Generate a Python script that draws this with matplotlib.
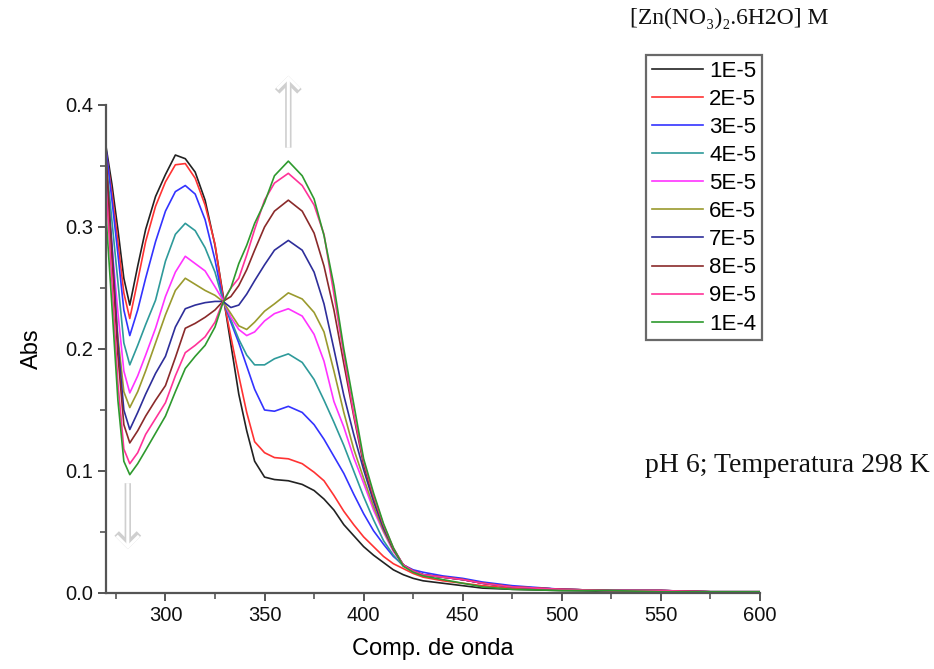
import matplotlib
matplotlib.use("Agg")
import matplotlib.pyplot as plt
from matplotlib.ticker import MultipleLocator, AutoMinorLocator

# wavelength grid (nm)
wl = [270, 273, 276, 279, 282, 286, 290, 295, 300, 305,
      310, 315, 320, 325, 329, 333, 337, 341, 345, 350,
      355, 362, 369, 375, 380, 385, 390, 395, 400, 405,
      410, 415, 420, 425, 430, 440, 450, 460, 475, 500,
      525, 550, 575, 600]

# absorbance for each Zn(NO3)2 concentration
a_1e5 = [.366, .335, .298, .258, .236, .268, .298, .325, .343, .359,
         .356, .345, .322, .285, .245, .204, .163, .133, .108, .095,
         .093, .092, .089, .084, .077, .068, .056, .047, .038, .031,
         .025, .019, .015, .012, .010, .008, .006, .004, .003, .002,
         .0015, .0015, .001, .001]
a_2e5 = [.362, .328, .288, .246, .225, .256, .288, .317, .337, .351,
         .352, .340, .318, .286, .243, .210, .178, .148, .124, .115,
         .111, .110, .106, .099, .092, .080, .067, .056, .046, .038,
         .030, .024, .020, .016, .013, .010, .008, .006, .004, .003,
         .002, .002, .001, .001]
a_3e5 = [.364, .322, .278, .232, .211, .232, .258, .288, .313, .329,
         .334, .327, .306, .273, .240, .222, .205, .186, .167, .150,
         .149, .153, .148, .138, .126, .112, .098, .081, .065, .051,
         .040, .030, .023, .019, .017, .014, .012, .009, .006, .003,
         .002, .002, .001, .001]
a_4e5 = [.355, .305, .255, .205, .187, .203, .220, .240, .272, .294,
         .303, .297, .283, .263, .240, .224, .208, .195, .187, .187,
         .192, .196, .189, .175, .158, .140, .121, .100, .079, .060,
         .043, .031, .022, .018, .015, .013, .011, .008, .005, .003,
         .002, .002, .001, .001]
a_5e5 = [.340, .285, .230, .182, .164, .178, .195, .217, .243, .263,
         .276, .270, .264, .251, .240, .226, .216, .211, .214, .223,
         .229, .233, .227, .212, .190, .157, .136, .111, .090, .068,
         .050, .034, .023, .018, .015, .013, .011, .008, .005, .003,
         .002, .002, .001, .001]
a_6e5 = [.330, .275, .210, .165, .152, .165, .182, .205, .228, .248,
         .258, .253, .248, .244, .239, .229, .219, .216, .222, .231,
         .237, .246, .241, .230, .214, .182, .148, .118, .094, .071,
         .051, .035, .023, .018, .015, .013, .011, .008, .005, .003,
         .002, .002, .001, .001]
a_7e5 = [.350, .285, .205, .150, .134, .148, .163, .180, .194, .218,
         .233, .236, .238, .239, .239, .234, .236, .245, .256, .269,
         .281, .289, .281, .263, .237, .200, .162, .130, .101, .075,
         .053, .036, .023, .018, .015, .013, .011, .008, .005, .003,
         .002, .002, .001, .001]
a_8e5 = [.360, .275, .195, .138, .123, .133, .145, .158, .170, .193,
         .217, .221, .226, .232, .239, .243, .252, .265, .281, .300,
         .313, .322, .313, .295, .268, .232, .188, .145, .105, .078,
         .055, .036, .023, .018, .015, .013, .011, .008, .005, .003,
         .002, .002, .001, .001]
a_9e5 = [.335, .255, .172, .118, .106, .115, .130, .143, .156, .178,
         .197, .203, .210, .222, .239, .250, .258, .277, .298, .322,
         .336, .344, .334, .318, .294, .245, .195, .147, .108, .080,
         .056, .037, .023, .018, .015, .013, .011, .008, .005, .003,
         .002, .002, .001, .001]
a_1e4 = [.310, .235, .158, .108, .097, .106, .117, .131, .145, .165,
         .184, .194, .203, .218, .238, .250, .270, .285, .303, .320,
         .342, .354, .342, .323, .293, .252, .200, .155, .110, .082,
         .057, .037, .022, .017, .014, .011, .008, .005, .003, .002,
         .002, .001, .001, .001]

labels = ["1E-5", "2E-5", "3E-5", "4E-5", "5E-5",
          "6E-5", "7E-5", "8E-5", "9E-5", "1E-4"]
series = [a_1e5, a_2e5, a_3e5, a_4e5, a_5e5,
          a_6e5, a_7e5, a_8e5, a_9e5, a_1e4]
colors = ["#222222", "#ff3333", "#3333ff", "#2e9a9a", "#ff33ff",
          "#9a9a2e", "#2e2e9a", "#8a2a2a", "#ff3399", "#2e9a2e"]

sans = ["Liberation Sans", "DejaVu Sans"]
serif = ["Liberation Serif", "DejaVu Serif"]

fig = plt.figure(figsize=(9.34, 6.69), dpi=100)
ax = fig.add_axes([106 / 934, 1 - 593 / 669, 654 / 934, 488 / 669])

for y, lab, c in zip(series, labels, colors):
    ax.plot(wl, y, color=c, lw=1.2, label=lab)

ax.set_xlim(270, 600)
ax.set_ylim(0, 0.4)
ax.xaxis.set_major_locator(MultipleLocator(50))
ax.xaxis.set_minor_locator(AutoMinorLocator(2))
ax.yaxis.set_major_locator(MultipleLocator(0.1))
ax.yaxis.set_minor_locator(AutoMinorLocator(2))
ax.yaxis.set_major_formatter(lambda v, p: f"{v:.1f}")

for s in ["top", "right"]:
    ax.spines[s].set_visible(False)
for s in ["left", "bottom"]:
    ax.spines[s].set_color("#555555")
    ax.spines[s].set_linewidth(1.6)
ax.tick_params(which="major", length=6, width=1.4, color="#555555",
               labelsize=14.5, labelcolor="#111111")
ax.tick_params(which="minor", length=4, width=1.2, color="#555555")
for t in ax.get_xticklabels() + ax.get_yticklabels():
    t.set_family(sans)

ax.set_xlabel("Comp. de onda", fontsize=17, family=sans, labelpad=9)
ax.set_ylabel("Abs", fontsize=17, family=sans, labelpad=16)

# arrows showing the trend with concentration
def trend_arrow(x, y0, y1):
    for col, lw in [("#cfcfcf", 4.6), ("white", 2.2)]:
        ax.annotate("", xy=(x, y1), xytext=(x, y0), annotation_clip=False,
                    arrowprops=dict(arrowstyle="->,head_length=0.8,head_width=0.8",
                                    color=col, lw=lw, shrinkA=0, shrinkB=0,
                                    joinstyle="miter", capstyle="butt"))

trend_arrow(362, 0.365, 0.424)
trend_arrow(281, 0.090, 0.036)

leg = fig.legend(loc="upper left", bbox_to_anchor=(646 / 934, 1 - 55 / 669),
                 borderaxespad=0, prop={"family": sans, "size": 16},
                 frameon=True, fancybox=False, edgecolor="#444444",
                 handlelength=2.3, handletextpad=0.3, labelspacing=0.32,
                 borderpad=0.25)
leg.get_frame().set_linewidth(1.6)

fig.text(630 / 934, 1 - 18 / 669, "[Zn(NO\u2083)\u2082.6H2O] M", family=serif,
         fontsize=17, va="center", ha="left", color="#111111")
fig.text(645 / 934, 1 - 465 / 669, "pH 6; Temperatura 298 K", family=serif,
         fontsize=20, va="center", ha="left", color="#111111")

fig.savefig("out.png", dpi=100)
